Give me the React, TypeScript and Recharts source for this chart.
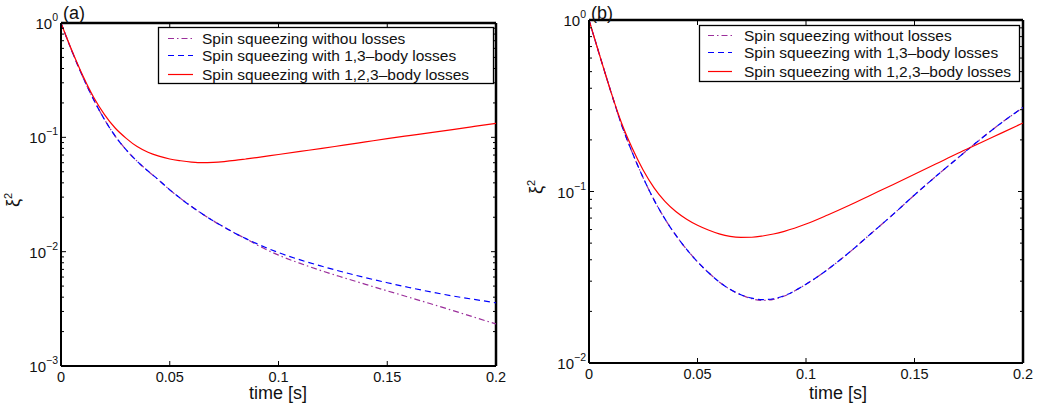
import { LineChart, Line, XAxis, YAxis, ReferenceLine } from 'recharts';

const FONT = '"Liberation Sans", Arial, Helvetica, sans-serif';

// time grid [s]
const T = [
  0, 0.005, 0.01, 0.015, 0.02, 0.025, 0.03, 0.035, 0.04, 0.045, 0.05, 0.055, 0.06, 0.065, 0.07,
  0.075, 0.08, 0.085, 0.09, 0.1, 0.11, 0.12, 0.13, 0.14, 0.15, 0.16, 0.17, 0.18, 0.19, 0.2,
];

// panel (a)
const A_NOLOSS = [
  1, 0.569, 0.339, 0.214, 0.143, 0.102, 0.0776, 0.0617, 0.0507, 0.0422, 0.0347, 0.0292, 0.0248,
  0.0214, 0.0186, 0.0164, 0.0145, 0.013, 0.01148, 0.00933, 0.00789, 0.00679, 0.00592, 0.00518,
  0.00454, 0.00399, 0.0035, 0.00306, 0.00267, 0.00233,
];
const A_LOSS13 = [
  1, 0.569, 0.339, 0.214, 0.143, 0.102, 0.0776, 0.0617, 0.0507, 0.0422, 0.0347, 0.0292, 0.0248,
  0.0214, 0.0186, 0.0164, 0.0145, 0.013, 0.01175, 0.00982, 0.00847, 0.00745, 0.00661, 0.00592,
  0.00535, 0.00486, 0.00445, 0.0041, 0.00382, 0.00357,
];
const A_LOSS123 = [
  1, 0.575, 0.347, 0.224, 0.158, 0.12, 0.098, 0.083, 0.074, 0.0684, 0.0646, 0.0624, 0.0608, 0.06,
  0.0604, 0.0614, 0.0628, 0.0646, 0.0665, 0.0708, 0.0753, 0.08, 0.0855, 0.0912, 0.0973, 0.1035,
  0.11, 0.117, 0.1245, 0.1325,
];

// panel (b)
const B_NOLOSS = [
  1, 0.617, 0.385, 0.245, 0.168, 0.12, 0.0891, 0.0692, 0.0556, 0.046, 0.0389, 0.0337, 0.0297,
  0.0269, 0.025, 0.0237, 0.0232, 0.0235, 0.0246, 0.0288, 0.0351, 0.0442, 0.0569, 0.0733, 0.0955,
  0.123, 0.157, 0.2, 0.251, 0.309,
];
const B_LOSS13 = [
  1, 0.617, 0.385, 0.245, 0.168, 0.12, 0.0891, 0.0692, 0.0556, 0.046, 0.0389, 0.0337, 0.0297,
  0.0269, 0.025, 0.0239, 0.0234, 0.0237, 0.0247, 0.0288, 0.0351, 0.0442, 0.0569, 0.0733, 0.0955,
  0.123, 0.157, 0.2, 0.251, 0.309,
];
const B_LOSS123 = [
  1, 0.617, 0.385, 0.251, 0.178, 0.133, 0.105, 0.0875, 0.0764, 0.0689, 0.0635, 0.0596, 0.0566,
  0.0547, 0.054, 0.0541, 0.055, 0.0565, 0.0586, 0.0646, 0.073, 0.0832, 0.0955, 0.1096, 0.126,
  0.145, 0.167, 0.191, 0.219, 0.251,
];

const X_TICKS = [0, 0.05, 0.1, 0.15, 0.2];
const X_LABELS = ['0', '0.05', '0.1', '0.15', '0.2'];
const A_DECADES = [0.001, 0.01, 0.1, 1];
const B_DECADES = [0.01, 0.1, 1];

const LEGEND_A = ['Spin squeezing withou losses', 'Spin squeezing with 1,3\u2013body losses', 'Spin squeezing with 1,2,3\u2013body losses'];
const LEGEND_B = ['Spin squeezing without losses', 'Spin squeezing with 1,3\u2013body losses', 'Spin squeezing with 1,2,3\u2013body losses'];

const SERIES_STYLE = [
  { color: '#9b2f9b', dash: '6 3 1.5 3' },
  { color: '#0000ff', dash: '6 4' },
  { color: '#ff0000', dash: undefined as string | undefined },
];

const withMinors = (decades: number[]) => {
  const out: number[] = [];
  decades.forEach((d, i) => {
    out.push(d);
    if (i < decades.length - 1) for (let k = 2; k <= 9; k++) out.push(+(d * k).toPrecision(3));
  });
  return out;
};

const isDecade = (v: number) => Math.abs(Math.log10(v) - Math.round(Math.log10(v))) < 1e-6;

// inward tick marks on left and right, decade labels on the left
const makeLeftTick = (plotW: number) => (props: any) => {
  const x = Number(props.x);
  const y = Number(props.y);
  const v = props.payload.value;
  const major = isDecade(v);
  const len = major ? 5 : 3;
  const exp = Math.round(Math.log10(v));
  return (
    <g>
      <rect x={x} y={y - 0.5} width={len} height={1} fill="#000" stroke="none" />
      <rect x={x + plotW - len} y={y - 0.5} width={len} height={1} fill="#000" stroke="none" />
      {major && (
        <text x={x - 3} y={y + 6} textAnchor="end" fontSize={15} fill="#111" stroke="none" fontFamily={FONT}>
          10
          <tspan dy={-8} fontSize={10.5}>
            {exp === 0 ? '0' : `\u2212${Math.abs(exp)}`}
          </tspan>
        </text>
      )}
    </g>
  );
};

// inward tick marks on bottom and top, labels below
const makeBottomTick = (plotH: number) => (props: any) => {
  const x = Number(props.x);
  const y = Number(props.y);
  return (
    <g>
      <rect x={x - 0.5} y={y - 5} width={1} height={5} fill="#000" stroke="none" />
      <rect x={x - 0.5} y={y - plotH} width={1} height={5} fill="#000" stroke="none" />
      <text x={x} y={y + 16} textAnchor="middle" fontSize={14.5} fill="#111" stroke="none" fontFamily={FONT}>
        {X_LABELS[props.index] ?? props.payload.value}
      </text>
    </g>
  );
};

interface PanelProps {
  left: number;
  width: number;
  margin: { top: number; right: number; bottom: number; left: number };
  yWidth: number;
  decades: number[];
  series: number[][];
}

const CHART_H = 410;
const X_AXIS_H = 30;

function Panel({ left, width, margin, yWidth, decades, series }: PanelProps) {
  const data = T.map((t, i) => ({ t, s0: series[0][i], s1: series[1][i], s2: series[2][i] }));
  const yTicks = withMinors(decades);
  const yMin = decades[0];
  const yMax = decades[decades.length - 1];
  const xMax = X_TICKS[X_TICKS.length - 1];
  const plotW = width - margin.left - margin.right - yWidth;
  const plotH = CHART_H - margin.top - margin.bottom - X_AXIS_H;
  return (
    <div style={{ position: 'absolute', left, top: 0 }}>
      <LineChart width={width} height={CHART_H} data={data} margin={margin}>
        <XAxis
          dataKey="t"
          type="number"
          domain={[0, xMax]}
          ticks={X_TICKS}
          interval={0}
          height={X_AXIS_H}
          tickSize={0}
          tickMargin={0}
          tickLine={false}
          tick={makeBottomTick(plotH)}
          axisLine={{ stroke: '#000', strokeWidth: 2 }}
          allowDataOverflow
        />
        <YAxis
          scale="log"
          type="number"
          domain={[yMin, yMax]}
          ticks={yTicks}
          interval={0}
          width={yWidth}
          tickSize={0}
          tickMargin={0}
          tickLine={false}
          tick={makeLeftTick(plotW)}
          axisLine={{ stroke: '#000', strokeWidth: 2 }}
          allowDataOverflow
        />
        {/* upper and right-hand frame of the box */}
        <ReferenceLine y={yMax} stroke="#000" strokeWidth={2.5} ifOverflow="extendDomain" />
        <ReferenceLine x={xMax} stroke="#000" strokeWidth={2.5} ifOverflow="extendDomain" />
        {SERIES_STYLE.map((s, i) => (
          <Line
            key={i}
            type="monotone"
            dataKey={`s${i}`}
            stroke={s.color}
            strokeWidth={1.2}
            strokeDasharray={s.dash}
            dot={false}
            isAnimationActive={false}
          />
        ))}
      </LineChart>
    </div>
  );
}

function LegendBox({ left, top, width, height, labels, rows, lineFrom, lineTo, textX }: any) {
  return (
    <svg style={{ position: 'absolute', left, top, overflow: 'visible' }} width={width} height={height}>
      <rect x={0.5} y={0.5} width={width - 1} height={height - 1} fill="#fff" stroke="#000" strokeWidth={1.3} />
      {labels.map((label: string, i: number) => (
        <g key={i}>
          <line
            x1={lineFrom}
            x2={lineTo}
            y1={rows[i] + 0.5}
            y2={rows[i] + 0.5}
            stroke={SERIES_STYLE[i].color}
            strokeWidth={1.2}
            strokeDasharray={SERIES_STYLE[i].dash}
          />
          <text x={textX} y={rows[i] + 6} fontSize={15.5} fill="#111" fontFamily={FONT}>
            {label}
          </text>
        </g>
      ))}
    </svg>
  );
}

export default function App() {
  return (
    <div style={{ position: 'fixed', left: 0, top: 0, width: 1041, height: 410, background: '#fff', fontFamily: FONT }}>
      <Panel
        left={0}
        width={520}
        margin={{ top: 23, right: 24, bottom: 14, left: 0 }}
        yWidth={61}
        decades={A_DECADES}
        series={[A_NOLOSS, A_LOSS13, A_LOSS123]}
      />
      <Panel
        left={530}
        width={511}
        margin={{ top: 20, right: 18, bottom: 17, left: 0 }}
        yWidth={59}
        decades={B_DECADES}
        series={[B_NOLOSS, B_LOSS13, B_LOSS123]}
      />
      <LegendBox left={158} top={27} width={336} height={57} labels={LEGEND_A} rows={[11, 28, 47]} lineFrom={10} lineTo={35} textX={44} />
      <LegendBox left={699} top={25} width={321} height={57} labels={LEGEND_B} rows={[10, 27, 46]} lineFrom={9} lineTo={33} textX={45} />
      <svg style={{ position: 'absolute', left: 0, top: 0, pointerEvents: 'none' }} width={1041} height={410}>
        <text x={63} y={19} fontSize={18} fill="#111" fontFamily={FONT}>(a)</text>
        <text x={591} y={19} fontSize={18} fill="#111" fontFamily={FONT}>(b)</text>
        <text x={278} y={399} fontSize={18} textAnchor="middle" fill="#111" fontFamily={FONT}>time [s]</text>
        <text x={838} y={399} fontSize={18} textAnchor="middle" fill="#111" fontFamily={FONT}>time [s]</text>
        <text transform="translate(19 200) rotate(-90)" fontSize={18} textAnchor="middle" fill="#111" fontFamily={FONT}>
          ξ<tspan dy={-7} fontSize={11}>2</tspan>
        </text>
        <text transform="translate(542 187) rotate(-90)" fontSize={18} textAnchor="middle" fill="#111" fontFamily={FONT}>
          ξ<tspan dy={-7} fontSize={11}>2</tspan>
        </text>
      </svg>
    </div>
  );
}
